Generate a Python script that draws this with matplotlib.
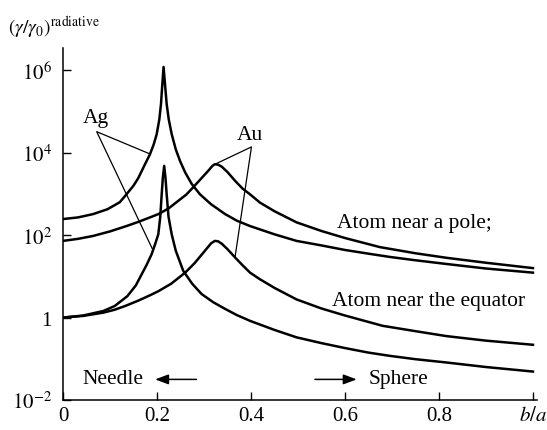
import matplotlib
matplotlib.use('Agg')
import matplotlib.pyplot as plt
import numpy as np

plt.rc('font', family='serif', size=15)
plt.rcParams['font.serif'] = ['Liberation Serif', 'DejaVu Serif']
plt.rcParams['mathtext.fontset'] = 'stix'

# curves, y given as log10(gamma/gamma0)
ag_pole_x = [0, 0.032, 0.064, 0.095, 0.121, 0.135, 0.150, 0.160, 0.1745, 0.185, 0.193, 0.1994,
             0.205, 0.2085, 0.211, 0.214, 0.2175, 0.2206, 0.225, 0.2313, 0.240, 0.249, 0.260,
             0.274, 0.2915, 0.315, 0.345, 0.370, 0.398, 0.45, 0.497, 0.55, 0.600, 0.65, 0.696,
             0.75, 0.816, 0.9, 1.0]
ag_pole_log = [2.39, 2.43, 2.51, 2.63, 2.80, 2.99, 3.20, 3.38, 3.72, 3.96, 4.20, 4.45,
               4.81, 5.18, 5.60, 6.08, 5.60, 5.18, 4.81, 4.45, 4.08, 3.80, 3.52,
               3.24, 2.99, 2.75, 2.51, 2.35, 2.22, 2.02, 1.86, 1.75, 1.64, 1.55, 1.47,
               1.39, 1.30, 1.19, 1.09]

au_pole_x = [0, 0.032, 0.064, 0.10, 0.135, 0.160, 0.185, 0.203, 0.225, 0.245, 0.262, 0.277,
             0.293, 0.309, 0.318, 0.323, 0.330, 0.338, 0.350, 0.366, 0.382, 0.398, 0.419,
             0.45, 0.497, 0.55, 0.600, 0.674, 0.75, 0.816, 0.9, 1.0]
au_pole_log = [1.86, 1.91, 1.98, 2.09, 2.22, 2.32, 2.43, 2.51, 2.65, 2.83, 2.98, 3.16,
               3.36, 3.56, 3.68, 3.72, 3.71, 3.66, 3.53, 3.32, 3.13, 2.99, 2.79,
               2.58, 2.31, 2.10, 1.93, 1.71, 1.56, 1.45, 1.33, 1.20]

ag_eq_x = [0, 0.043, 0.086, 0.110, 0.137, 0.155, 0.1674, 0.178, 0.1887, 0.196, 0.2028, 0.207,
           0.210, 0.2125, 0.2153, 0.218, 0.2206, 0.2245, 0.2313, 0.240, 0.256, 0.275, 0.295,
           0.32, 0.345, 0.37, 0.398, 0.45, 0.497, 0.55, 0.600, 0.65, 0.696, 0.75, 0.816, 0.9, 1.0]
ag_eq_log = [0, 0.05, 0.16, 0.28, 0.52, 0.78, 1.05, 1.28, 1.54, 1.78, 2.02, 2.45,
             2.99, 3.40, 3.68, 3.40, 2.99, 2.45, 2.02, 1.62, 1.13, 0.82, 0.57,
             0.37, 0.21, 0.06, -0.08, -0.30, -0.48, -0.62, -0.74, -0.85, -0.93, -1.01, -1.09, -1.20, -1.31]

au_eq_x = [0, 0.043, 0.086, 0.11, 0.132, 0.16, 0.185, 0.203, 0.23, 0.26, 0.28, 0.302, 0.315,
           0.323, 0.330, 0.338, 0.350, 0.366, 0.382, 0.398, 0.419, 0.45, 0.497, 0.55, 0.600,
           0.68, 0.75, 0.816, 0.9, 1.0]
au_eq_log = [0, 0.04, 0.12, 0.19, 0.28, 0.41, 0.54, 0.64, 0.82, 1.09, 1.32, 1.62, 1.80,
             1.86, 1.85, 1.79, 1.66, 1.46, 1.27, 1.09, 0.93, 0.72, 0.44, 0.22, 0.05,
             -0.20, -0.33, -0.45, -0.56, -0.66]

xticks = [0, 0.2, 0.4, 0.6, 0.8, 1.0]
xticklabels = ['0', '0.2', '0.4', '0.6', '0.8', r'$b/a$']
yticks = [1e-2, 1, 1e2, 1e4, 1e6]
yticklabels = [r'$10^{-2}$', '1', r'$10^2$', r'$10^4$', r'$10^6$']

fig = plt.figure(figsize=(5.47, 4.31), dpi=100)
ax = fig.add_axes([63/547., 30/431., 473.7/547., 352/431.])

for xs, ls in [(ag_pole_x, ag_pole_log), (au_pole_x, au_pole_log),
               (ag_eq_x, ag_eq_log), (au_eq_x, au_eq_log)]:
    ax.plot(xs, 10.**np.array(ls), 'k-', lw=1.8, solid_joinstyle='round')

ax.set_yscale('log')
ax.set_xlim(0, 1.008)
ax.set_ylim(1e-2, 10**6.54)

ax.spines['top'].set_visible(False)
ax.spines['right'].set_visible(False)
for s in ['left', 'bottom']:
    ax.spines[s].set_linewidth(1.1)

ax.set_xticks(xticks)
ax.set_xticklabels(xticklabels)
ax.set_yticks(yticks)
ax.set_yticklabels(yticklabels)
ax.minorticks_off()
ax.tick_params(direction='in', length=6, width=1.0, labelsize=15)
ax.tick_params(axis='x', pad=4)
ax.tick_params(axis='y', pad=8)

# pointer lines
ax.plot([0.185, 0.0717, 0.190], [10**3.97, 10**4.51, 10**1.67], 'k-', lw=0.9)
ax.plot([0.327, 0.401, 0.366], [10**3.74, 10**4.14, 10**1.46], 'k-', lw=0.9)

ax.text(0.070, 10**4.86, 'Ag', ha='center', va='center', size=15.5)
ax.text(0.398, 10**4.45, 'Au', ha='center', va='center', size=15.5)
ax.text(0.582, 10**2.31, 'Atom near a pole;', ha='left', va='center', size=15.5)
ax.text(0.572, 10**0.42, 'Atom near the equator', ha='left', va='center', size=15.5)
ax.text(0.042, 10**-1.47, 'Needle', ha='left', va='center', size=15.5)
ax.text(0.651, 10**-1.47, 'Sphere', ha='left', va='center', size=15.5)

arr = dict(arrowstyle='-|>,head_length=0.8,head_width=0.3', color='k', lw=1.1,
           mutation_scale=10, shrinkA=0, shrinkB=0)
ax.annotate('', xy=(0.196, 10**-1.50), xytext=(0.284, 10**-1.50), arrowprops=arr)
ax.annotate('', xy=(0.625, 10**-1.50), xytext=(0.536, 10**-1.50), arrowprops=arr)

fig.text(8/547., 1-28/431., r'$(\gamma/\gamma_0)^{\rm radiative}$', ha='left', va='center', size=14)

plt.savefig('out.png', dpi=100)
